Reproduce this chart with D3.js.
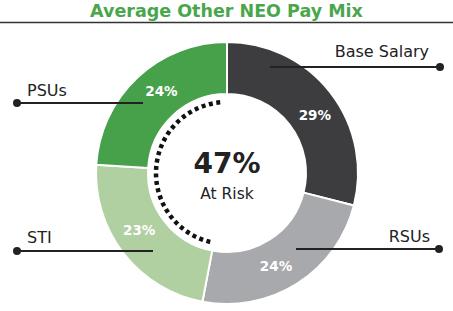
<!DOCTYPE html>
<html>
<head>
<meta charset="utf-8">
<script src="https://cdn.jsdelivr.net/npm/d3@7"></script>
<style>
  body { margin: 0; background: #fff; }
  svg { display: block; font-family: "DejaVu Sans", sans-serif; }
</style>
</head>
<body>
<div id="chart"></div>
<script>
// data
var categories = ["Base Salary", "RSUs", "STI", "PSUs"];
var shares = [29, 24, 23, 24];
var colors = ["#3d3d3f", "#a8a9ac", "#b1d0a2", "#47a04a"];
var atRisk = 47;
var title = "Average Other NEO Pay Mix";

var width = 453, height = 311;
var cx = 227, cy = 173;
var rOuter = 131, rInner = 79, rDots = 71;

var svg = d3.select("#chart").append("svg")
  .attr("width", width)
  .attr("height", height);

// title + rule
svg.append("text")
  .attr("x", width / 2)
  .attr("y", 17)
  .attr("text-anchor", "middle")
  .attr("fill", "#4aa64c")
  .style("font-size", "17.5px")
  .style("font-weight", "bold")
  .text(title);

svg.append("line")
  .attr("x1", 0).attr("x2", width)
  .attr("y1", 22.5).attr("y2", 22.5)
  .attr("stroke", "#333")
  .attr("stroke-width", 1.5);

var g = svg.append("g").attr("transform", `translate(${cx},${cy})`);

var pie = d3.pie().sort(null).value(d => d);
var arcs = pie(shares);

var arc = d3.arc().innerRadius(rInner).outerRadius(rOuter);

g.selectAll("path.slice")
  .data(arcs)
  .enter().append("path")
  .attr("class", "slice")
  .attr("d", arc)
  .attr("fill", (d, i) => colors[i])
  .attr("stroke", "#fff")
  .attr("stroke-width", 2);

// percent labels inside slices (sit a little clockwise of the centroid)
var labelR = 105, labelShift = 0.08;
g.selectAll("text.pct")
  .data(arcs)
  .enter().append("text")
  .attr("class", "pct")
  .attr("transform", function(d) {
    var a = (d.startAngle + d.endAngle) / 2 + labelShift;
    return `translate(${labelR * Math.sin(a)},${-labelR * Math.cos(a)})`;
  })
  .attr("text-anchor", "middle")
  .attr("dy", "0.35em")
  .attr("fill", "#fff")
  .style("font-size", "13.5px")
  .style("font-weight", "bold")
  .text(d => d.data + "%");

// dotted "at risk" arc over STI + PSUs (single open arc so dashes don't overlap)
var riskStart = arcs[2].startAngle + 0.05, riskEnd = arcs[3].endAngle - 0.05;
var p = d3.path();
p.arc(0, 0, rDots, riskStart - Math.PI / 2, riskEnd - Math.PI / 2);
g.append("path")
  .attr("d", p.toString())
  .attr("fill", "none")
  .attr("stroke", "#111")
  .attr("stroke-width", 4.5)
  .attr("stroke-dasharray", "4 3.5");

// center text
g.append("text")
  .attr("y", 0)
  .attr("text-anchor", "middle")
  .attr("fill", "#222")
  .style("font-size", "28px")
  .style("font-weight", "bold")
  .text(atRisk + "%");

g.append("text")
  .attr("y", 26)
  .attr("text-anchor", "middle")
  .attr("fill", "#222")
  .style("font-size", "15.5px")
  .text("At Risk");

// leader lines and labels
var leaders = [
  { x1: 270, y: 67, x2: 440, lx: 429, ly: 57, anchor: "end" },
  { x1: 296, y: 249, x2: 439, lx: 430, ly: 242, anchor: "end" },
  { x1: 153, y: 251, x2: 17, lx: 27, ly: 243, anchor: "start" },
  { x1: 143, y: 103, x2: 17, lx: 27, ly: 96, anchor: "start" }
];

leaders.forEach(function(l, i) {
  svg.append("line")
    .attr("x1", l.x1).attr("x2", l.x2)
    .attr("y1", l.y).attr("y2", l.y)
    .attr("stroke", "#222")
    .attr("stroke-width", 2);
  svg.append("circle")
    .attr("cx", l.x2).attr("cy", l.y)
    .attr("r", 4)
    .attr("fill", "#222");
  svg.append("text")
    .attr("x", l.lx).attr("y", l.ly)
    .attr("text-anchor", l.anchor)
    .attr("fill", "#222")
    .style("font-size", "16px")
    .text(categories[i]);
});
</script>
</body>
</html>
